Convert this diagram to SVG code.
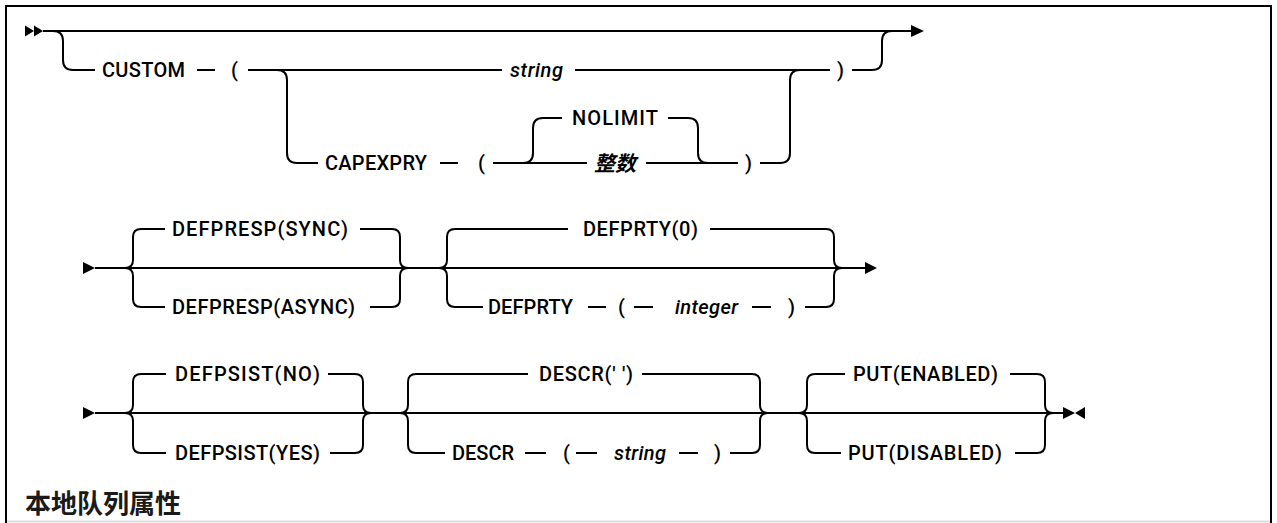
<svg xmlns="http://www.w3.org/2000/svg" width="1277" height="523" viewBox="0 0 1277 523">
<style>
.ln{stroke:#000;stroke-width:2;fill:none}
.ar{fill:#000;stroke:none}
.k{font-family:Roboto,"Liberation Sans",Arial,sans-serif;font-size:20px;font-weight:500;fill:#000}
.v{font-family:Roboto,"Liberation Sans",Arial,sans-serif;font-size:20px;font-weight:500;font-style:italic;fill:#000}
.cj{font-family:"Noto Sans CJK SC",sans-serif;font-size:21px;font-style:italic;font-weight:700;fill:#000}
.t{font-family:"Noto Sans CJK SC",sans-serif;font-size:26px;font-weight:700;fill:#1a1a1a}
</style>
<rect x="0" y="0" width="1277" height="523" fill="#fff"/>
<g id="frame">
<path d="M6,523 L6,6 L1271,6 L1271,523" stroke="#000" stroke-width="2" fill="none"/>
<line x1="7" y1="521.5" x2="1270" y2="521.5" stroke="#dcdcdc" stroke-width="2"/>
</g>
<g id="connectors">
<polygon class="ar" points="25,25.5 34,31 25,36.5"/>
<polygon class="ar" points="34,25.5 43,31 34,36.5"/>
<line class="ln" x1="43" y1="31" x2="912" y2="31"/>
<polygon class="ar" points="911,25 924,31 911,37"/>
<path class="ln" d="M53,31 Q63,31 63,41 L63,60 Q63,70 73,70 L95,70"/>
<line class="ln" x1="197" y1="70" x2="215" y2="70"/>
<line class="ln" x1="248" y1="70" x2="502" y2="70"/>
<line class="ln" x1="575" y1="70" x2="830" y2="70"/>
<path class="ln" d="M852,70 L872,70 Q882,70 882,60 L882,41 Q882,31 892,31"/>
<path class="ln" d="M277,70 Q287,70 287,80 L287,153 Q287,163 297,163 L318,163"/>
<line class="ln" x1="440" y1="163" x2="458" y2="163"/>
<line class="ln" x1="493" y1="163" x2="587" y2="163"/>
<line class="ln" x1="646" y1="163" x2="738" y2="163"/>
<path class="ln" d="M523,163 Q533,163 533,153 L533,128 Q533,118 543,118 L562,118"/>
<path class="ln" d="M668,118 L688,118 Q698,118 698,128 L698,153 Q698,163 708,163"/>
<path class="ln" d="M760,163 L780,163 Q790,163 790,153 L790,80 Q790,70 800,70"/>
<polygon class="ar" points="83,262 95,268 83,274"/>
<line class="ln" x1="95" y1="268" x2="866" y2="268"/>
<polygon class="ar" points="865,262 877,268 865,274"/>
<path class="ln" d="M125,268 Q133,268 133,260 L133,237 Q133,229 141,229 L165,229"/>
<path class="ln" d="M125,268 Q133,268 133,276 L133,299 Q133,307 141,307 L165,307"/>
<path class="ln" d="M360,229 L392,229 Q400,229 400,237 L400,260 Q400,268 408,268"/>
<path class="ln" d="M370,307 L392,307 Q400,307 400,299 L400,276 Q400,268 408,268"/>
<path class="ln" d="M439,268 Q447,268 447,260 L447,237 Q447,229 455,229 L568,229"/>
<path class="ln" d="M439,268 Q447,268 447,276 L447,299 Q447,307 455,307 L483,307"/>
<path class="ln" d="M710,229 L826,229 Q834,229 834,237 L834,260 Q834,268 842,268"/>
<path class="ln" d="M805,307 L826,307 Q834,307 834,299 L834,276 Q834,268 842,268"/>
<line class="ln" x1="588" y1="307" x2="606" y2="307"/>
<line class="ln" x1="634" y1="307" x2="653" y2="307"/>
<line class="ln" x1="752" y1="307" x2="771" y2="307"/>
<polygon class="ar" points="83,407 95,413 83,419"/>
<line class="ln" x1="95" y1="413" x2="1063" y2="413"/>
<polygon class="ar" points="1063,407 1075,413 1063,419"/>
<polygon class="ar" points="1085,407 1075,413 1085,419"/>
<path class="ln" d="M125,413 Q133,413 133,405 L133,382 Q133,374 141,374 L166,374"/>
<path class="ln" d="M125,413 Q133,413 133,421 L133,445 Q133,453 141,453 L166,453"/>
<path class="ln" d="M328,374 L355,374 Q363,374 363,382 L363,405 Q363,413 371,413"/>
<path class="ln" d="M330,453 L355,453 Q363,453 363,445 L363,421 Q363,413 371,413"/>
<path class="ln" d="M400,413 Q408,413 408,405 L408,382 Q408,374 416,374 L528,374"/>
<path class="ln" d="M400,413 Q408,413 408,421 L408,445 Q408,453 416,453 L445,453"/>
<path class="ln" d="M642,374 L752,374 Q760,374 760,382 L760,405 Q760,413 768,413"/>
<path class="ln" d="M730,453 L752,453 Q760,453 760,445 L760,421 Q760,413 768,413"/>
<line class="ln" x1="525" y1="453" x2="546" y2="453"/>
<line class="ln" x1="576" y1="453" x2="597" y2="453"/>
<line class="ln" x1="679" y1="453" x2="698" y2="453"/>
<path class="ln" d="M799,413 Q807,413 807,405 L807,382 Q807,374 815,374 L845,374"/>
<path class="ln" d="M799,413 Q807,413 807,421 L807,445 Q807,453 815,453 L841,453"/>
<path class="ln" d="M1010,374 L1037,374 Q1045,374 1045,382 L1045,405 Q1045,413 1053,413"/>
<path class="ln" d="M1015,453 L1037,453 Q1045,453 1045,445 L1045,421 Q1045,413 1053,413"/>
</g>
<g id="n-custom"><text class="k" x="102" y="77" textLength="83">CUSTOM</text></g>
<g id="n-custom-lp"><text class="k" x="231" y="77">(</text></g>
<g id="n-string1"><text class="v" x="510" y="77" textLength="53">string</text></g>
<g id="n-custom-rp"><text class="k" x="837" y="77">)</text></g>
<g id="n-capexpry"><text class="k" x="325" y="170" textLength="102">CAPEXPRY</text></g>
<g id="n-capexpry-lp"><text class="k" x="478" y="170">(</text></g>
<g id="n-nolimit"><text class="k" x="572" y="125" textLength="86">NOLIMIT</text></g>
<g id="n-zhengshu"><text class="cj" x="594" y="171">整数</text></g>
<g id="n-capexpry-rp"><text class="k" x="745" y="170">)</text></g>
<g id="n-defpresp-sync"><text class="k" x="172" y="236" textLength="176">DEFPRESP(SYNC)</text></g>
<g id="n-defpresp-async"><text class="k" x="172" y="314" textLength="183">DEFPRESP(ASYNC)</text></g>
<g id="n-defprty0"><text class="k" x="583" y="236" textLength="115">DEFPRTY(0)</text></g>
<g id="n-defprty"><text class="k" x="488" y="314" textLength="85">DEFPRTY</text></g>
<g id="n-defprty-lp"><text class="k" x="618" y="314">(</text></g>
<g id="n-integer"><text class="v" x="675" y="314" textLength="63">integer</text></g>
<g id="n-defprty-rp"><text class="k" x="788" y="314">)</text></g>
<g id="n-defpsist-no"><text class="k" x="175" y="381" textLength="145">DEFPSIST(NO)</text></g>
<g id="n-defpsist-yes"><text class="k" x="175" y="460" textLength="145">DEFPSIST(YES)</text></g>
<g id="n-descr-blank"><text class="k" x="539" y="381" textLength="94">DESCR(' ')</text></g>
<g id="n-descr"><text class="k" x="452" y="460" textLength="62">DESCR</text></g>
<g id="n-descr-lp"><text class="k" x="563" y="460">(</text></g>
<g id="n-string2"><text class="v" x="614" y="460" textLength="52">string</text></g>
<g id="n-descr-rp"><text class="k" x="714" y="460">)</text></g>
<g id="n-put-enabled"><text class="k" x="853" y="381" textLength="145">PUT(ENABLED)</text></g>
<g id="n-put-disabled"><text class="k" x="848" y="460" textLength="154">PUT(DISABLED)</text></g>
<g id="title"><text class="t" x="25" y="513">本地队列属性</text></g>
</svg>
